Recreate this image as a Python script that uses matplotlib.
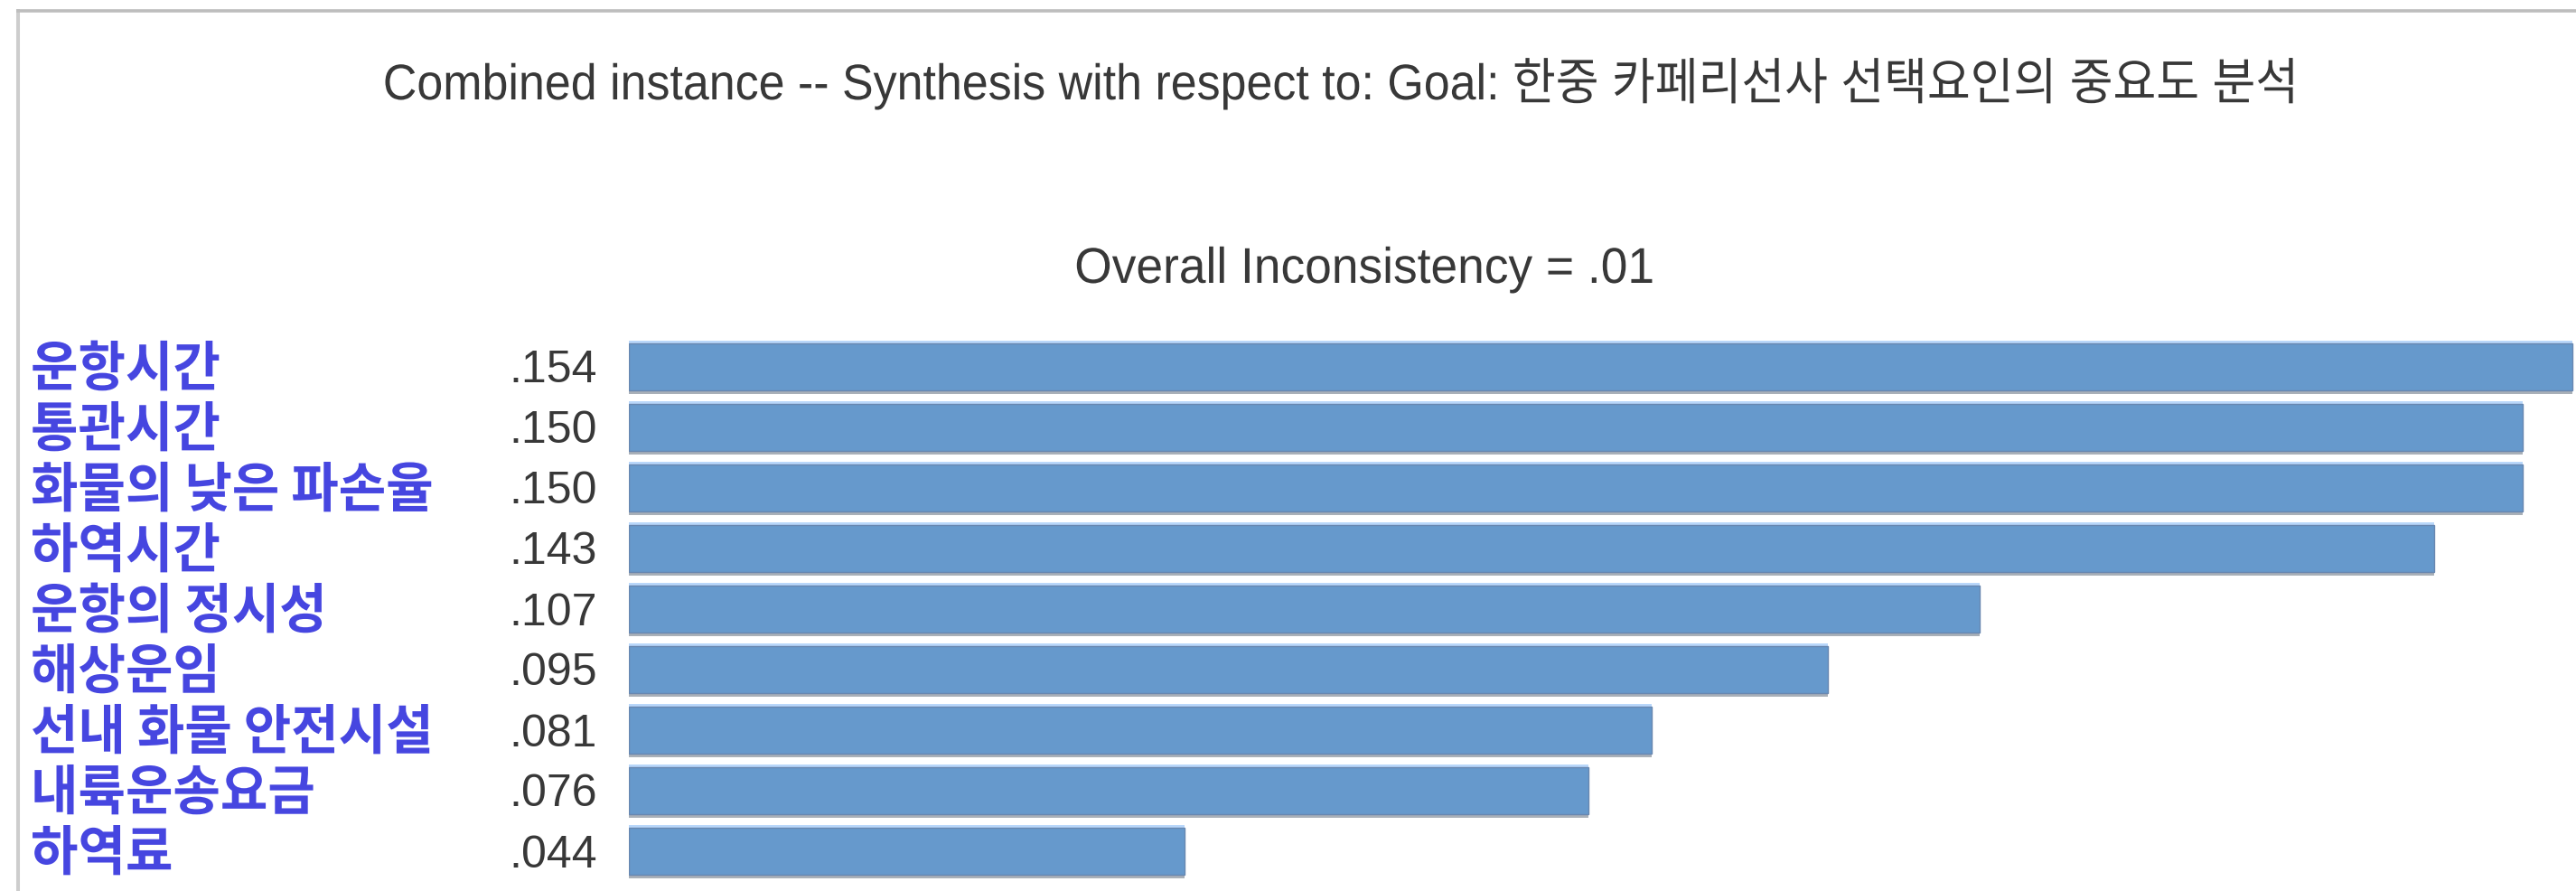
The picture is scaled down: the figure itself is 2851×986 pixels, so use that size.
import numpy as np
import matplotlib
matplotlib.use("Agg")
import matplotlib.pyplot as plt
from matplotlib import transforms
from matplotlib.lines import Line2D
from matplotlib.patheffects import AbstractPathEffect, SimplePatchShadow, Normal

# ---- data -------------------------------------------------------------
title_text = "Combined instance -- Synthesis with respect to: Goal: 한중 카페리선사 선택요인의 중요도 분석"
subtitle_text = "Overall Inconsistency = .01"
criteria = ["운항시간", "통관시간", "화물의 낮은 파손율", "하역시간", "운항의 정시성",
            "해상운임", "선내 화물 안전시설", "내륙운송요금", "하역료"]
weights = [0.154, 0.150, 0.150, 0.143, 0.107, 0.095, 0.081, 0.076, 0.044]
weight_labels = [".154", ".150", ".150", ".143", ".107", ".095", ".081", ".076", ".044"]

# ---- canvas -----------------------------------------------------------
W, H, DPI = 2851, 986, 100
fig = plt.figure(figsize=(W / DPI, H / DPI), dpi=DPI)
fig.patch.set_facecolor("white")


def fx(x):
    return x / W


def fy(y):
    return 1 - y / H


class Squeeze(AbstractPathEffect):
    """Draw text glyphs horizontally condensed by factor sx."""

    def __init__(self, sx, anchor="left"):
        super().__init__()
        self.sx = sx
        self.anchor = anchor

    def draw_path(self, renderer, gc, tpath, affine, rgbFace=None):
        v = tpath.vertices
        x0 = 0.0
        if len(v):
            if self.anchor == "right":
                x0 = float(np.nanmax(v[:, 0]))
            elif self.anchor == "center":
                x0 = 0.5 * (float(np.nanmin(v[:, 0])) + float(np.nanmax(v[:, 0])))
        t = (transforms.Affine2D().translate(-x0, 0).scale(self.sx, 1.0)
             .translate(x0, 0) + affine)
        renderer.draw_path(gc, tpath, t, rgbFace)


# ---- window frame -----------------------------------------------------
fig.add_artist(Line2D([fx(20), fx(20)], [fy(10), 0], transform=fig.transFigure,
                      color="#cdcdcd", lw=2.9, solid_capstyle="butt"))
fig.add_artist(Line2D([fx(18), 1], [fy(11.5), fy(11.5)], transform=fig.transFigure,
                      color="#bdbdbd", lw=2.6, solid_capstyle="butt"))

# ---- titles -----------------------------------------------------------
fig.text(fx(1484), fy(110), title_text, ha="center", va="baseline", fontsize=40,
         family=["Liberation Sans", "Noto Sans CJK KR"], color="#383838",
         path_effects=[Squeeze(0.935, "center")])
fig.text(fx(1510), fy(313), subtitle_text, ha="center", va="baseline", fontsize=40,
         family=["Liberation Sans", "Noto Sans CJK KR"], color="#383838",
         path_effects=[Squeeze(0.96, "center")])

# ---- bars -------------------------------------------------------------
px_per_unit = 13970.0
bar_left = 696
row_top, row_bottom = 372.5, 975.5
ax = fig.add_axes([fx(bar_left), fy(row_bottom), (W - bar_left) / W,
                   (row_bottom - row_top) / H])
ax.set_xlim(0, (W - bar_left) / px_per_unit)
ax.set_ylim(len(weights) - 0.5, -0.5)
ax.axis("off")

rows = np.arange(len(weights))
bars = ax.barh(rows, weights, height=0.79, color="#6699cc",
               edgecolor="#6887b0", linewidth=1.0)
for b in bars:
    b.set_path_effects([
        SimplePatchShadow(offset=(0, 1.8), shadow_rgbFace="#b9d7fa", alpha=1.0),
        SimplePatchShadow(offset=(0, -2.6), shadow_rgbFace="#a9b0b8", alpha=1.0),
        Normal(),
    ])

# ---- row labels -------------------------------------------------------
lab_tr = (transforms.blended_transform_factory(fig.transFigure, ax.transData)
          + transforms.ScaledTranslation(0, -0.21, fig.dpi_scale_trans))
val_tr = (transforms.blended_transform_factory(fig.transFigure, ax.transData)
          + transforms.ScaledTranslation(0, -0.175, fig.dpi_scale_trans))

for i, (name, lbl) in enumerate(zip(criteria, weight_labels)):
    ax.text(fx(34), rows[i], name, transform=lab_tr, ha="left", va="baseline",
            fontsize=43, family=["Noto Sans CJK KR"], fontweight="bold",
            color="#4646e0", path_effects=[Squeeze(0.955, "left")], clip_on=False)
    ax.text(fx(661), rows[i], lbl, transform=val_tr, ha="right", va="baseline",
            fontsize=36, family=["Liberation Sans", "DejaVu Sans"], color="#383838",
            clip_on=False)

fig.savefig("out.png", dpi=DPI, facecolor="white")
